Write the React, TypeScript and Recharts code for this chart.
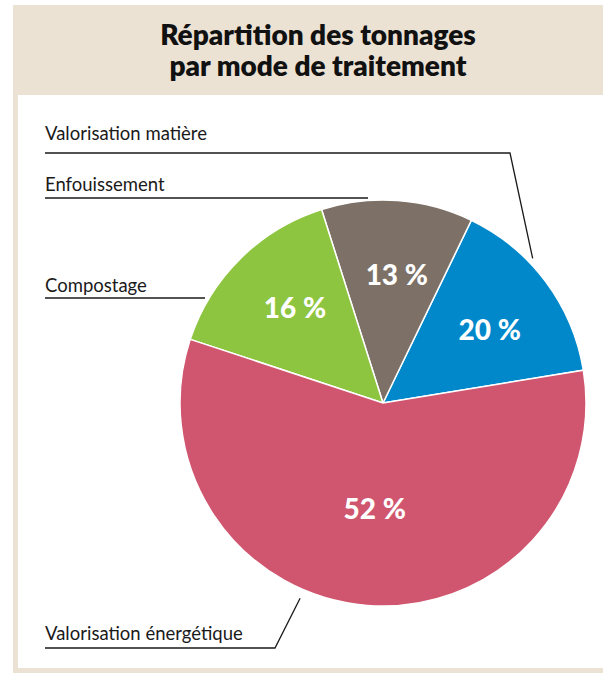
import { PieChart, Pie, Cell } from 'recharts';

// slice shares as drawn (angular share of the disc), and the printed percentages
const modes = ['Valorisation matière', 'Enfouissement', 'Compostage', 'Valorisation énergétique'];
const shares = [15.25, 12.06, 15.03, 57.66];
const printed = ['20 %', '13 %', '16 %', '52 %'];
const colors = ['#0088cb', '#7d7067', '#8dc540', '#d0556e'];

const data = modes.map((name, i) => ({ name, value: shares[i], text: printed[i] }));

// callout layout: text baseline, underline y, elbow x, edge angle (deg) and radius factor
const CALLOUTS = [
  { textY: 140, lineY: 153, elbowX: 510, angle: 44, rf: 1.025 },
  { textY: 191, lineY: 198, elbowX: 368, angle: null, rf: 0 },
  { textY: 292, lineY: 298, elbowX: 205, angle: null, rf: 0 },
  { textY: 640, lineY: 648, elbowX: 275, angle: 247, rf: 1.045 },
];

const RAD = Math.PI / 180;
const BEIGE = '#ebe2d4';
const FONT = 'Lato, "Open Sans", sans-serif';

const renderLabel = (props: any) => {
  const { cx, cy, midAngle, outerRadius, percent, index, payload } = props;
  const big = percent > 0.5;
  const r = big ? outerRadius * 0.52 : outerRadius * 0.64;
  const a = big ? midAngle : midAngle - 2;
  const x = cx + r * Math.cos(-a * RAD);
  const y = cy + r * Math.sin(-a * RAD);
  const c = CALLOUTS[index];
  let pts = `45,${c.lineY} ${c.elbowX},${c.lineY}`;
  if (c.angle !== null) {
    const ex = cx + outerRadius * c.rf * Math.cos(-c.angle * RAD);
    const ey = cy + outerRadius * c.rf * Math.sin(-c.angle * RAD);
    pts += ` ${ex},${ey}`;
  }
  return (
    <g>
      <text x={x} y={y} fill="#fff" fontSize={28} fontWeight={900} fontFamily={FONT}
        textAnchor="middle" dominantBaseline="central">
        {payload.text}
      </text>
      <text x={45} y={c.textY} fill="#1a1a1a" fontSize={18.5} fontFamily={FONT}>{payload.name}</text>
      <polyline points={pts} fill="none" stroke="#1a1a1a" strokeWidth={1.3} />
    </g>
  );
};

export default function App() {
  return (
    <div style={{ position: 'absolute', left: 0, top: 0, width: 603, height: 675, background: '#fff', overflow: 'hidden' }}>
      <div style={{ position: 'absolute', left: 13, top: 5, width: 590, height: 90, background: BEIGE }} />
      <div style={{ position: 'absolute', left: 13, top: 95, width: 5, height: 578, background: BEIGE }} />
      <div style={{ position: 'absolute', left: 13, top: 668, width: 590, height: 5, background: BEIGE }} />
      <div style={{
        position: 'absolute', left: 18, top: 19, width: 600, textAlign: 'center',
        fontFamily: FONT, fontWeight: 800, fontSize: 28, lineHeight: '31px', color: '#111',
      }}>
        Répartition des tonnages<br />par mode de traitement
      </div>
      <div style={{ position: 'absolute', left: 0, top: 0 }}>
        <PieChart width={603} height={675} margin={{ top: 0, right: 0, bottom: 0, left: 0 }}>
          <Pie
            data={data}
            dataKey="value"
            nameKey="name"
            cx={383}
            cy={403}
            outerRadius={203}
            startAngle={9.3}
            endAngle={369.3}
            stroke="#fff"
            strokeWidth={1.5}
            label={renderLabel}
            labelLine={false}
            isAnimationActive={false}
          >
            {data.map((d, i) => (
              <Cell key={d.name} fill={colors[i]} />
            ))}
          </Pie>
        </PieChart>
      </div>
    </div>
  );
}
